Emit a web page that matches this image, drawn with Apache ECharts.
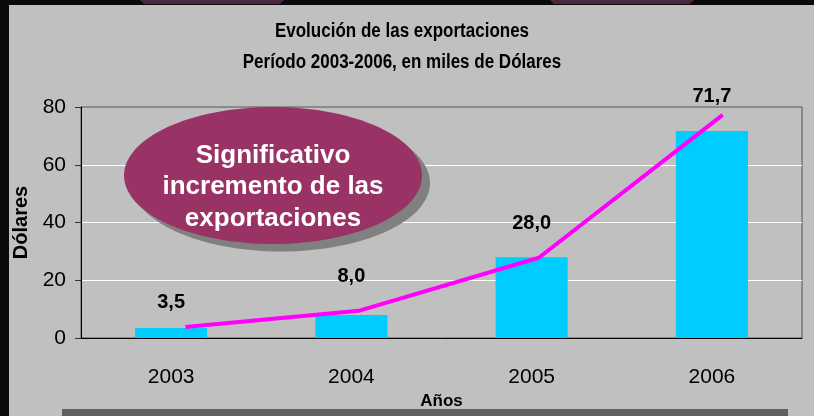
<!DOCTYPE html>
<html>
<head>
<meta charset="utf-8">
<script src="https://cdn.jsdelivr.net/npm/echarts@6/dist/echarts.min.js"></script>
<style>
  html, body { margin: 0; padding: 0; background: #c0c0c0; }
  #chart { width: 814px; height: 416px; }
</style>
</head>
<body>
<div id="chart"></div>
<script>
// datos del gráfico
var years = ['2003', '2004', '2005', '2006'];
var exports = [3.5, 8.0, 28.0, 71.7];
// línea de tendencia dibujada a mano (posición en años, valor)
var trendX = [0.58, 1.54, 2.54, 3.56];
var trendY = [3.8, 9.4, 27.8, 77.3];
var yTicks = [0, 20, 40, 60, 80];
var titleLines = ['Evolución de las exportaciones', 'Período 2003-2006, en miles de Dólares'];
var noteLines = ['Significativo', 'incremento de las', 'exportaciones'];

var arial = "'Liberation Sans', Arial, sans-serif";

// distancia de cada etiqueta sobre su barra
var labelGap = [15, 28, 24, 24];

var chart = echarts.init(document.getElementById('chart'));

var option = {
  backgroundColor: '#c0c0c0',
  animation: false,
  grid: {
    left: 81,
    right: 12,
    top: 107,
    bottom: 78,
    show: true,
    borderColor: '#555',
    borderWidth: 1
  },
  xAxis: [
    {
      type: 'category',
      data: years,
      name: 'Años',
      nameLocation: 'middle',
      nameGap: 51,
      nameTextStyle: { fontFamily: arial, fontWeight: 'bold', fontSize: 17, color: '#000' },
      axisLine: { lineStyle: { color: '#000', width: 1 } },
      axisTick: { length: 8, lineStyle: { color: '#333' } },
      axisLabel: { fontFamily: arial, fontSize: 21, color: '#000', margin: 29 }
    },
    {
      type: 'value',
      min: 0,
      max: 4,
      show: false
    }
  ],
  yAxis: {
    type: 'value',
    min: yTicks[0],
    max: yTicks[yTicks.length - 1],
    interval: yTicks[1] - yTicks[0],
    name: 'Dólares',
    nameLocation: 'middle',
    nameGap: 43,
    nameTextStyle: { fontFamily: arial, fontWeight: 'bold', fontSize: 20, color: '#000' },
    axisLine: { show: true, lineStyle: { color: '#000', width: 1 } },
    axisTick: { show: true, length: 6, lineStyle: { color: '#333' } },
    axisLabel: { fontFamily: arial, fontSize: 21, color: '#000', margin: 15 },
    splitLine: {
      show: true,
      showMinLine: false,
      showMaxLine: false,
      lineStyle: { color: '#ffffff', width: 1 }
    }
  },
  series: [
    {
      type: 'bar',
      data: exports.map(function (v, i) {
        return { value: v, label: { distance: labelGap[i] } };
      }),
      barWidth: '40%',
      itemStyle: { color: '#00ccff' },
      label: {
        show: true,
        position: 'top',
        fontFamily: arial,
        fontWeight: 'bold',
        fontSize: 20,
        color: '#000',
        formatter: function (p) {
          return p.value.toFixed(1).replace('.', ',');
        }
      },
      z: 2
    },
    {
      type: 'line',
      xAxisIndex: 1,
      data: trendX.map(function (x, i) { return [x, trendY[i]]; }),
      showSymbol: false,
      symbol: 'none',
      lineStyle: { color: '#ff00ff', width: 4 },
      z: 3
    }
  ],
  graphic: [
    // marco negro y formas superiores
    { type: 'rect', shape: { x: 0, y: 0, width: 9, height: 416 }, style: { fill: '#0a0a0a' }, z: 100 },
    { type: 'rect', shape: { x: 0, y: 0, width: 814, height: 5 }, style: { fill: '#0a0a0a' }, z: 100 },
    { type: 'polygon', shape: { points: [[140, 0], [284, 0], [280, 4], [144, 4]] }, style: { fill: '#4a2640' }, z: 101 },
    { type: 'polygon', shape: { points: [[550, 0], [694, 0], [690, 4], [554, 4]] }, style: { fill: '#4a2640' }, z: 101 },
    { type: 'rect', shape: { x: 62, y: 409, width: 726, height: 7 }, style: { fill: '#606060' }, z: 100 },
    // títulos
    {
      type: 'text', x: 402, y: 31, scaleX: 0.85, z: 100,
      style: { text: titleLines[0], fontFamily: arial, fontWeight: 'bold', fontSize: 20, fill: '#000', textAlign: 'center', textVerticalAlign: 'middle' }
    },
    {
      type: 'text', x: 402, y: 62, scaleX: 0.85, z: 100,
      style: { text: titleLines[1], fontFamily: arial, fontWeight: 'bold', fontSize: 20, fill: '#000', textAlign: 'center', textVerticalAlign: 'middle' }
    },
    // óvalo con nota
    { type: 'ellipse', shape: { cx: 281, cy: 183, rx: 149, ry: 68.5 }, style: { fill: '#808080' }, z: 100 },
    { type: 'ellipse', shape: { cx: 273, cy: 175.5, rx: 149, ry: 68.5 }, style: { fill: '#993366' }, z: 101 },
    {
      type: 'text', x: 273, y: 187, z: 102,
      style: {
        text: noteLines.join('\n'),
        fontFamily: arial, fontWeight: 'bold', fontSize: 26, lineHeight: 31.5,
        fill: '#fff', textAlign: 'center', textVerticalAlign: 'middle'
      }
    }
  ]
};

chart.setOption(option);
window.addEventListener('resize', function () {
  chart.resize();
});
</script>
</body>
</html>
